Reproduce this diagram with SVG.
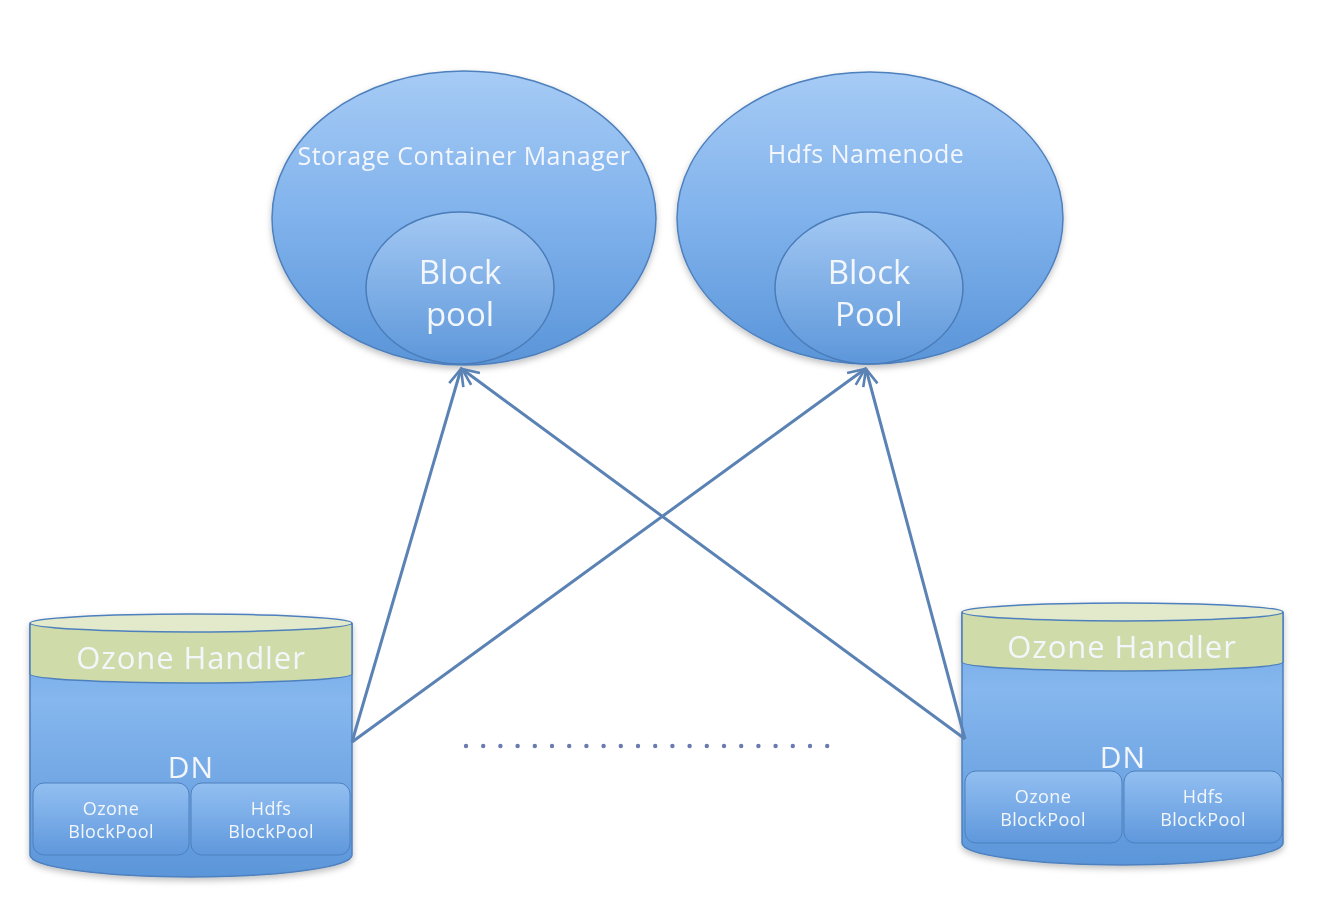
<svg xmlns="http://www.w3.org/2000/svg" width="1318" height="918" viewBox="0 0 1318 918">
<defs>
<linearGradient id="gBlue" x1="0" y1="0" x2="0" y2="1">
<stop offset="0" stop-color="#a6cbf5"/>
<stop offset="0.5" stop-color="#80b2ec"/>
<stop offset="1" stop-color="#5a95d9"/>
</linearGradient>
<linearGradient id="gInner" x1="0" y1="0" x2="0" y2="1">
<stop offset="0" stop-color="#a3c8f3"/>
<stop offset="1" stop-color="#5d97da"/>
</linearGradient>
<linearGradient id="gBody" x1="0" y1="0" x2="0" y2="1">
<stop offset="0" stop-color="#6ea5e4"/>
<stop offset="0.3" stop-color="#86b7ee"/>
<stop offset="1" stop-color="#5b96da"/>
</linearGradient>
<linearGradient id="gBox" x1="0" y1="0" x2="0" y2="1">
<stop offset="0" stop-color="#92bff1"/>
<stop offset="1" stop-color="#5f98dc"/>
</linearGradient>
<marker id="arr" viewBox="0 0 20 20" refX="18" refY="10" markerWidth="7" markerHeight="7" markerUnits="strokeWidth" orient="auto">
<path d="M2,3 L18,10 L2,17" fill="none" stroke="#5b82b4" stroke-width="2.5"/>
</marker>
<filter id="sh" x="-10%" y="-10%" width="120%" height="125%">
<feDropShadow dx="0" dy="3" stdDeviation="3" flood-color="#000" flood-opacity="0.25"/>
</filter>
</defs>
<style>
.ell{fill:url(#gBlue);stroke:#4e80bd;stroke-width:1.5}
.inner{fill:url(#gInner);stroke:#4a7cb8;stroke-width:1.5}
.body{fill:url(#gBody);stroke:#4e80bd;stroke-width:1.5}
.green{fill:#cfdcaa;stroke:#4e80bd;stroke-width:1.5}
.gtop{fill:#e2eacb;stroke:#4e80bd;stroke-width:1.5}
.box{fill:url(#gBox);stroke:#4e80bd;stroke-width:1}
.t{font-family:"Open Sans","Lato","DejaVu Sans",sans-serif;fill:#f3f6fb;text-anchor:middle}
.big{font-size:25px;letter-spacing:0.5px}
.bp{font-size:33px}
.oh{font-size:31px;letter-spacing:0.9px}
.dn{font-size:30px;letter-spacing:1px}
.sm{font-size:18px;letter-spacing:0.4px}
.conn{stroke:#5b82b4;stroke-width:3;fill:none}
.dot{fill:#6a7bb0}
</style>
<rect width="1318" height="918" fill="#ffffff"/>

<g id="scm" filter="url(#sh)">
<ellipse class="ell" cx="464" cy="218" rx="192" ry="147"/>
<ellipse class="inner" cx="460" cy="288" rx="94" ry="76"/>
<text class="t big" x="464" y="165">Storage Container Manager</text>
<text class="t bp" x="460" y="284">Block</text>
<text class="t bp" x="460" y="326">pool</text>
</g>

<g id="namenode" filter="url(#sh)">
<ellipse class="ell" cx="870" cy="218" rx="193" ry="146"/>
<ellipse class="inner" cx="869" cy="288" rx="94" ry="76"/>
<text class="t big" x="866" y="163">Hdfs Namenode</text>
<text class="t bp" x="869" y="284">Block</text>
<text class="t bp" x="869" y="326">Pool</text>
</g>

<g id="dn-left" filter="url(#sh)">
<path class="body" d="M30,624 L30,855 A161,22 0 0 0 352,855 L352,624 Z"/>
<path class="green" d="M30,624 L30,674 A161,9 0 0 0 352,674 L352,624 Z"/>
<ellipse class="gtop" cx="191" cy="623" rx="161" ry="9"/>
<text class="t oh" x="191" y="669">Ozone Handler</text>
<text class="t dn" x="191" y="778">DN</text>
<rect class="box" x="33" y="783" width="156" height="72" rx="11"/>
<rect class="box" x="191" y="783" width="159" height="72" rx="11"/>
<text class="t sm" x="111" y="815">Ozone</text>
<text class="t sm" x="111" y="838">BlockPool</text>
<text class="t sm" x="271" y="815">Hdfs</text>
<text class="t sm" x="271" y="838">BlockPool</text>
</g>

<g id="dn-right" filter="url(#sh)">
<path class="body" d="M962,613 L962,843 A160.5,22 0 0 0 1283,843 L1283,613 Z"/>
<path class="green" d="M962,613 L962,662 A160.5,9 0 0 0 1283,662 L1283,613 Z"/>
<ellipse class="gtop" cx="1122.5" cy="612" rx="160.5" ry="9"/>
<text class="t oh" x="1122" y="658">Ozone Handler</text>
<text class="t dn" x="1123" y="768">DN</text>
<rect class="box" x="965" y="771" width="157" height="72" rx="11"/>
<rect class="box" x="1124" y="771" width="158" height="72" rx="11"/>
<text class="t sm" x="1043" y="803">Ozone</text>
<text class="t sm" x="1043" y="826">BlockPool</text>
<text class="t sm" x="1203" y="803">Hdfs</text>
<text class="t sm" x="1203" y="826">BlockPool</text>
</g>

<g id="connectors">
<line class="conn" x1="352" y1="742" x2="461" y2="369" marker-end="url(#arr)"/>
<line class="conn" x1="965" y1="739" x2="462" y2="369" marker-end="url(#arr)"/>
<line class="conn" x1="352" y1="742" x2="865" y2="369" marker-end="url(#arr)"/>
<line class="conn" x1="965" y1="739" x2="866" y2="369" marker-end="url(#arr)"/>
</g>

<g id="ellipsis-dots">
<circle class="dot" cx="466" cy="746" r="2.2"/>
<circle class="dot" cx="483.2" cy="746" r="2.2"/>
<circle class="dot" cx="500.4" cy="746" r="2.2"/>
<circle class="dot" cx="517.6" cy="746" r="2.2"/>
<circle class="dot" cx="534.8" cy="746" r="2.2"/>
<circle class="dot" cx="552" cy="746" r="2.2"/>
<circle class="dot" cx="569.2" cy="746" r="2.2"/>
<circle class="dot" cx="586.4" cy="746" r="2.2"/>
<circle class="dot" cx="603.6" cy="746" r="2.2"/>
<circle class="dot" cx="620.8" cy="746" r="2.2"/>
<circle class="dot" cx="638" cy="746" r="2.2"/>
<circle class="dot" cx="655.2" cy="746" r="2.2"/>
<circle class="dot" cx="672.4" cy="746" r="2.2"/>
<circle class="dot" cx="689.6" cy="746" r="2.2"/>
<circle class="dot" cx="706.8" cy="746" r="2.2"/>
<circle class="dot" cx="724" cy="746" r="2.2"/>
<circle class="dot" cx="741.2" cy="746" r="2.2"/>
<circle class="dot" cx="758.4" cy="746" r="2.2"/>
<circle class="dot" cx="775.6" cy="746" r="2.2"/>
<circle class="dot" cx="792.8" cy="746" r="2.2"/>
<circle class="dot" cx="810" cy="746" r="2.2"/>
<circle class="dot" cx="827.2" cy="746" r="2.2"/>
</g>
</svg>
